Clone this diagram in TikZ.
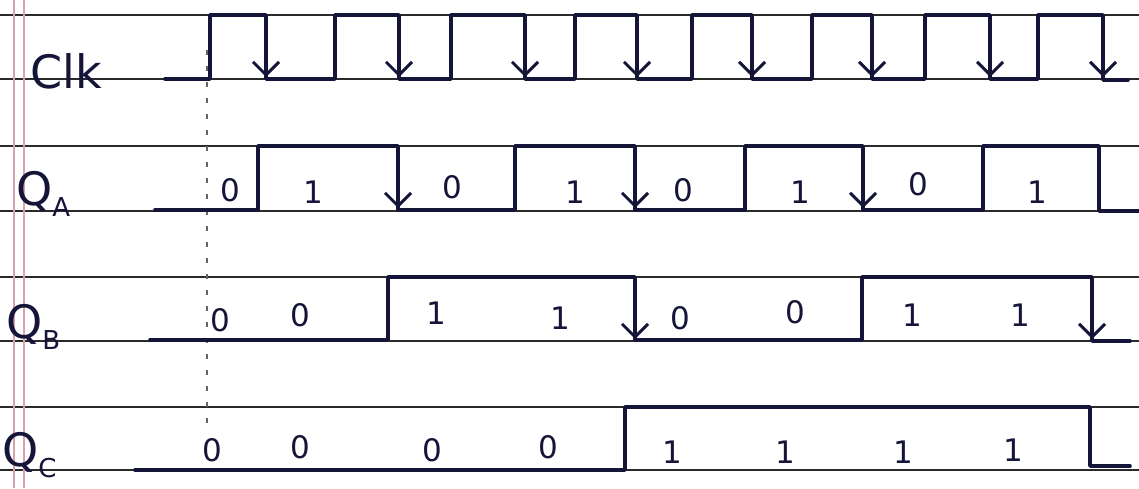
\documentclass[tikz,border=0pt]{standalone}
\usepackage{fontspec}
\setmainfont{DejaVu Sans}
\usetikzlibrary{arrows.meta}
\definecolor{ink}{HTML}{15153A}
\definecolor{rule}{HTML}{2A2A2A}
\definecolor{margin}{HTML}{D9A3AC}
\tikzset{
  ruling/.style={rule, line width=2pt},
  marginline/.style={margin, line width=1.6pt},
  wave/.style={ink, line width=3.6pt, line join=round, line cap=round},
  fallarrow/.style={ink, line width=3.4pt, line cap=round, -{Straight Barb[length=13pt,width=26pt,line width=3pt]}},
  bit/.style={ink, font=\fontsize{31}{33}\selectfont, inner sep=0pt},
  sig/.style={ink, font=\fontsize{46}{48}\selectfont, inner sep=0pt, anchor=base west},
  guide/.style={black!60, line width=1.8pt, dash pattern=on 5pt off 11pt}
}
\newcommand{\subl}[1]{\raisebox{-0.25em}{\fontsize{26}{26}\selectfont #1}}
\begin{document}
\begin{tikzpicture}[x=1pt,y=-1pt]
\useasboundingbox (0,0) rectangle (1139,488);
\fill[white] (0,0) rectangle (1139,488);
% notebook ruling
\foreach \yy in {15,79,146,211,277,341,407,470}
  \draw[ruling] (0,\yy) -- (1139,\yy);
\draw[marginline] (14,0) -- (14,488);
\draw[marginline] (24,0) -- (24,488);
% guide
\draw[guide] (207,50) -- (207,425);
% labels
\node[sig] (lclk) at (30,88) {Clk};
\node[sig] (lqa) at (16,205) {Q\subl{A}};
\node[sig] (lqb) at (6,338) {Q\subl{B}};
\node[sig] (lqc) at (2,466) {Q\subl{C}};
% Clk
\draw[wave] (165,79) -- (210,79) -- (210,15) -- (266,15) -- (266,79) -- (335,79) -- (335,15) -- (399,15) -- (399,79)
  -- (451,79) -- (451,15) -- (525,15) -- (525,79) -- (575,79) -- (575,15) -- (637,15) -- (637,79)
  -- (692,79) -- (692,15) -- (752,15) -- (752,79) -- (812,79) -- (812,15) -- (872,15) -- (872,79)
  -- (925,79) -- (925,15) -- (990,15) -- (990,79) -- (1038,79) -- (1038,15) -- (1103,15) -- (1103,80) -- (1128,80);
\foreach \xx in {266,399,525,637,752,872,990,1103}
  \draw[fallarrow] (\xx,40) -- (\xx,77);
% QA
\draw[wave] (155,210) -- (258,210) -- (258,146) -- (398,146) -- (398,210) -- (515,210) -- (515,146) -- (635,146) -- (635,210)
  -- (745,210) -- (745,146) -- (863,146) -- (863,210) -- (983,210) -- (983,146) -- (1099,146) -- (1099,211) -- (1139,211);
\foreach \xx in {398,635,863}
  \draw[fallarrow] (\xx,170) -- (\xx,208);
% QB
\draw[wave] (150,340) -- (388,340) -- (388,277) -- (635,277) -- (635,340) -- (862,340) -- (862,277) -- (1092,277) -- (1092,341) -- (1130,341);
\foreach \xx in {635,1092}
  \draw[fallarrow] (\xx,300) -- (\xx,339);
% QC
\draw[wave] (135,470) -- (625,470) -- (625,407) -- (1090,407) -- (1090,466) -- (1130,466);
% bits QA
\node[bit] (a1) at (230,190) {0};
\node[bit] (a2) at (313,192) {1};
\node[bit] (a3) at (452,187) {0};
\node[bit] (a4) at (575,192) {1};
\node[bit] (a5) at (683,190) {0};
\node[bit] (a6) at (800,192) {1};
\node[bit] (a7) at (918,184) {0};
\node[bit] (a8) at (1037,192) {1};
% bits QB
\node[bit] (b1) at (220,320) {0};
\node[bit] (b2) at (300,315) {0};
\node[bit] (b3) at (436,313) {1};
\node[bit] (b4) at (560,318) {1};
\node[bit] (b5) at (680,318) {0};
\node[bit] (b6) at (795,312) {0};
\node[bit] (b7) at (912,315) {1};
\node[bit] (b8) at (1020,315) {1};
% bits QC
\node[bit] (c1) at (212,450) {0};
\node[bit] (c2) at (300,447) {0};
\node[bit] (c3) at (432,450) {0};
\node[bit] (c4) at (548,447) {0};
\node[bit] (c5) at (672,452) {1};
\node[bit] (c6) at (785,452) {1};
\node[bit] (c7) at (903,452) {1};
\node[bit] (c8) at (1013,450) {1};
\end{tikzpicture}
\end{document}
